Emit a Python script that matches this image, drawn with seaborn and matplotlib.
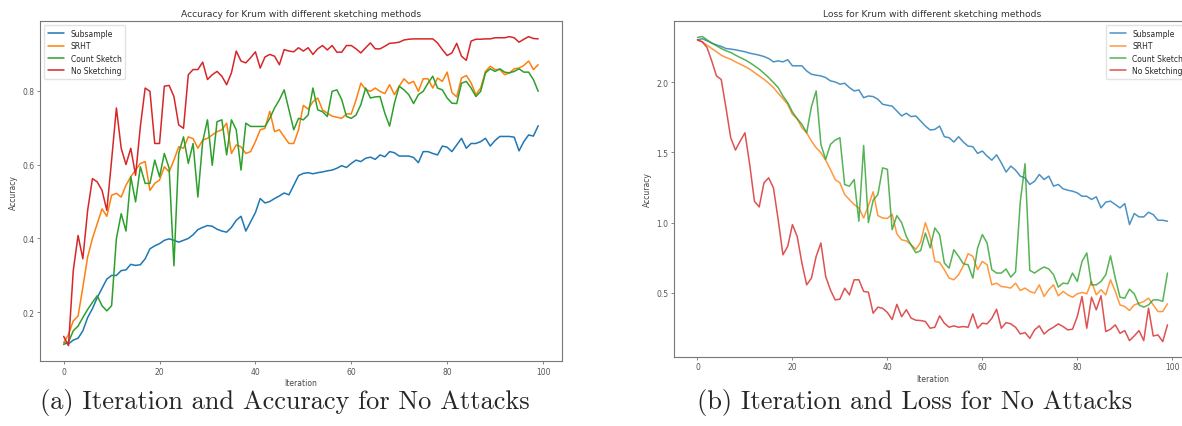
import numpy as np
import pandas as pd
import matplotlib
matplotlib.use("Agg")
import matplotlib.pyplot as plt
import seaborn as sns

# ---- data ----
iterations = list(range(100))
methods = ["Subsample", "SRHT", "Count Sketch", "No Sketching"]

acc_subsample = [
    0.118, 0.115, 0.125, 0.13, 0.15, 0.186, 0.21, 0.24, 0.265, 0.29,
    0.30, 0.30, 0.313, 0.315, 0.33, 0.327, 0.329, 0.345, 0.372, 0.38,
    0.386, 0.395, 0.399, 0.395, 0.39, 0.395, 0.40, 0.41, 0.424, 0.43,
    0.435, 0.433, 0.425, 0.42, 0.417, 0.43, 0.449, 0.46, 0.42, 0.445,
    0.47, 0.508, 0.496, 0.50, 0.508, 0.515, 0.523, 0.518, 0.544, 0.57,
    0.576, 0.578, 0.575, 0.578, 0.58, 0.583, 0.585, 0.59, 0.597, 0.592,
    0.603, 0.612, 0.608, 0.617, 0.62, 0.614, 0.626, 0.621, 0.635, 0.632,
    0.623, 0.623, 0.623, 0.619, 0.605, 0.635, 0.635, 0.63, 0.626, 0.65,
    0.647, 0.635, 0.653, 0.671, 0.644, 0.657, 0.657, 0.662, 0.671, 0.65,
    0.665, 0.676, 0.676, 0.676, 0.674, 0.637, 0.662, 0.68, 0.677, 0.705,
]
acc_srht = [
    0.118, 0.14, 0.177, 0.19, 0.268, 0.35, 0.40, 0.44, 0.48, 0.46,
    0.517, 0.522, 0.512, 0.544, 0.567, 0.585, 0.603, 0.608, 0.53, 0.549,
    0.558, 0.594, 0.58, 0.612, 0.648, 0.644, 0.675, 0.67, 0.644, 0.666,
    0.671, 0.68, 0.689, 0.694, 0.712, 0.63, 0.653, 0.648, 0.63, 0.635,
    0.662, 0.694, 0.698, 0.744, 0.689, 0.694, 0.675, 0.657, 0.657, 0.694,
    0.76, 0.75, 0.77, 0.78, 0.748, 0.739, 0.731, 0.728, 0.725, 0.737,
    0.737, 0.775, 0.82, 0.803, 0.798, 0.807, 0.798, 0.792, 0.816, 0.789,
    0.812, 0.832, 0.819, 0.825, 0.798, 0.832, 0.832, 0.807, 0.834, 0.825,
    0.85, 0.795, 0.783, 0.834, 0.841, 0.821, 0.789, 0.807, 0.852, 0.866,
    0.857, 0.857, 0.843, 0.848, 0.859, 0.861, 0.868, 0.88, 0.857, 0.87,
]
acc_count = [
    0.113, 0.12, 0.15, 0.163, 0.186, 0.208, 0.227, 0.245, 0.218, 0.204,
    0.218, 0.40, 0.467, 0.42, 0.567, 0.499, 0.594, 0.549, 0.549, 0.612,
    0.567, 0.63, 0.59, 0.326, 0.63, 0.675, 0.603, 0.657, 0.512, 0.662,
    0.721, 0.598, 0.716, 0.721, 0.626, 0.721, 0.694, 0.585, 0.712, 0.703,
    0.703, 0.703, 0.703, 0.725, 0.753, 0.775, 0.802, 0.748, 0.694, 0.725,
    0.721, 0.734, 0.807, 0.748, 0.743, 0.73, 0.798, 0.802, 0.776, 0.73,
    0.725, 0.734, 0.762, 0.807, 0.78, 0.783, 0.784, 0.739, 0.704, 0.766,
    0.812, 0.802, 0.789, 0.765, 0.789, 0.798, 0.82, 0.839, 0.807, 0.802,
    0.78, 0.766, 0.765, 0.82, 0.825, 0.807, 0.784, 0.798, 0.848, 0.859,
    0.852, 0.859, 0.85, 0.848, 0.852, 0.859, 0.85, 0.85, 0.83, 0.798,
]
acc_none = [
    0.135, 0.11, 0.313, 0.408, 0.345, 0.476, 0.562, 0.553, 0.53, 0.476,
    0.612, 0.753, 0.644, 0.60, 0.644, 0.571, 0.703, 0.807, 0.798, 0.657,
    0.657, 0.812, 0.814, 0.784, 0.707, 0.698, 0.843, 0.857, 0.857, 0.877,
    0.83, 0.843, 0.852, 0.839, 0.816, 0.848, 0.907, 0.88, 0.875, 0.889,
    0.905, 0.861, 0.891, 0.898, 0.893, 0.87, 0.911, 0.907, 0.905, 0.916,
    0.907, 0.916, 0.898, 0.913, 0.922, 0.91, 0.922, 0.904, 0.904, 0.922,
    0.922, 0.913, 0.902, 0.916, 0.929, 0.913, 0.913, 0.92, 0.928, 0.929,
    0.931, 0.937, 0.939, 0.94, 0.94, 0.94, 0.94, 0.94, 0.929, 0.911,
    0.895, 0.902, 0.928, 0.893, 0.882, 0.934, 0.939, 0.939, 0.94, 0.94,
    0.943, 0.943, 0.943, 0.946, 0.943, 0.931, 0.939, 0.946, 0.941, 0.94,
]

loss_subsample = [
    2.302, 2.31, 2.295, 2.279, 2.265, 2.255, 2.24, 2.236, 2.231, 2.224,
    2.217, 2.207, 2.2, 2.193, 2.183, 2.169, 2.145, 2.152, 2.145, 2.16,
    2.117, 2.117, 2.117, 2.08, 2.057, 2.05, 2.045, 2.033, 2.01, 2.002,
    1.986, 1.993, 1.962, 1.938, 1.945, 1.89, 1.902, 1.898, 1.879, 1.843,
    1.836, 1.83, 1.795, 1.76, 1.779, 1.755, 1.76, 1.724, 1.688, 1.66,
    1.664, 1.688, 1.612, 1.605, 1.574, 1.612, 1.574, 1.545, 1.541, 1.493,
    1.51, 1.474, 1.445, 1.483, 1.426, 1.36, 1.403, 1.374, 1.331, 1.319,
    1.272, 1.295, 1.343, 1.307, 1.331, 1.26, 1.272, 1.241, 1.231, 1.224,
    1.212, 1.188, 1.188, 1.165, 1.184, 1.105, 1.146, 1.153, 1.129, 1.105,
    1.136, 0.986, 1.065, 1.041, 1.041, 1.074, 1.057, 1.017, 1.017, 1.01,
]
loss_srht = [
    2.30, 2.288, 2.264, 2.24, 2.217, 2.193, 2.176, 2.164, 2.145, 2.129,
    2.112, 2.093, 2.069, 2.045, 2.021, 1.993, 1.962, 1.921, 1.883, 1.843,
    1.771, 1.74, 1.676, 1.64, 1.581, 1.533, 1.498, 1.445, 1.379, 1.307,
    1.283, 1.2, 1.164, 1.129, 1.105, 1.033, 1.12, 1.22, 1.05, 1.033,
    1.03, 1.06, 0.92, 0.878, 0.87, 0.843, 0.81, 0.86, 1.0, 0.9,
    0.724, 0.717, 0.665, 0.605, 0.593, 0.629, 0.693, 0.779, 0.76, 0.665,
    0.724, 0.7, 0.557, 0.569, 0.545, 0.541, 0.534, 0.569, 0.517, 0.534,
    0.51, 0.498, 0.557, 0.474, 0.522, 0.557, 0.479, 0.51, 0.486, 0.469,
    0.493, 0.503, 0.493, 0.581, 0.486, 0.522, 0.486, 0.593, 0.51, 0.414,
    0.403, 0.374, 0.414, 0.426, 0.438, 0.462, 0.414, 0.367, 0.367, 0.422,
]
loss_count = [
    2.319, 2.326, 2.302, 2.279, 2.26, 2.24, 2.224, 2.212, 2.193, 2.176,
    2.16, 2.14, 2.117, 2.093, 2.064, 2.033, 1.998, 1.962, 1.902, 1.855,
    1.788, 1.74, 1.7, 1.64, 1.826, 1.938, 1.557, 1.45, 1.557, 1.588,
    1.605, 1.271, 1.26, 1.307, 1.01, 1.55, 1.0, 1.16, 1.2, 1.39,
    1.38, 0.95, 1.05, 1.0, 0.9, 0.84, 0.786, 0.8, 0.926, 0.82,
    0.962, 0.915, 0.712, 0.676, 0.807, 0.76, 0.707, 0.7, 0.605, 0.819,
    0.915, 0.855, 0.665, 0.641, 0.641, 0.67, 0.612, 0.65, 1.15, 1.42,
    0.66, 0.641, 0.665, 0.684, 0.67, 0.629, 0.541, 0.569, 0.565, 0.641,
    0.581, 0.724, 0.784, 0.557, 0.557, 0.581, 0.629, 0.764, 0.605, 0.469,
    0.462, 0.526, 0.493, 0.414, 0.398, 0.414, 0.45, 0.45, 0.44, 0.641,
]
loss_none = [
    2.302, 2.288, 2.248, 2.152, 2.045, 2.02, 1.819, 1.605, 1.517, 1.581,
    1.64, 1.414, 1.152, 1.112, 1.283, 1.319, 1.248, 1.021, 0.771, 0.831,
    0.986, 0.902, 0.712, 0.557, 0.605, 0.76, 0.855, 0.617, 0.521, 0.45,
    0.455, 0.533, 0.486, 0.593, 0.593, 0.51, 0.505, 0.355, 0.398, 0.39,
    0.36, 0.31, 0.418, 0.33, 0.38, 0.32, 0.305, 0.303, 0.296, 0.248,
    0.255, 0.336, 0.284, 0.255, 0.265, 0.255, 0.26, 0.255, 0.35, 0.248,
    0.284, 0.279, 0.319, 0.383, 0.248, 0.288, 0.279, 0.255, 0.207, 0.217,
    0.176, 0.236, 0.265, 0.207, 0.236, 0.255, 0.279, 0.26, 0.236, 0.241,
    0.331, 0.474, 0.248, 0.469, 0.379, 0.479, 0.224, 0.241, 0.272, 0.212,
    0.231, 0.16, 0.193, 0.231, 0.16, 0.391, 0.193, 0.2, 0.153, 0.272,
]

titles = ["Accuracy for Krum with different sketching methods",
          "Loss for Krum with different sketching methods"]
captions = ["(a) Iteration and Accuracy for No Attacks",
            "(b) Iteration and Loss for No Attacks"]


def to_long(series):
    frames = []
    for name, vals in zip(methods, series):
        frames.append(pd.DataFrame({"Iteration": iterations, "Value": vals, "Method": name}))
    return pd.concat(frames, ignore_index=True)


acc_df = to_long([acc_subsample, acc_srht, acc_count, acc_none])
loss_df = to_long([loss_subsample, loss_srht, loss_count, loss_none])

# ---- styling ----
sns.set_theme(style="white")
plt.rcParams.update({
    "font.family": ["DejaVu Sans"],
    "axes.edgecolor": "#777777",
    "axes.linewidth": 0.8,
    "xtick.color": "#555555",
    "ytick.color": "#555555",
    "xtick.bottom": True,
    "ytick.left": True,
})
palette = sns.color_palette("tab10", 4)

fig = plt.figure(figsize=(11.82, 4.27), dpi=100)
ax1 = fig.add_axes([0.0338, 0.152, 0.4416, 0.796])
ax2 = fig.add_axes([0.5702, 0.162, 0.4374, 0.786])


def draw(ax, df, title, loc, alpha):
    sns.lineplot(data=df, x="Iteration", y="Value", hue="Method", palette=palette,
                 linewidth=1.1, alpha=alpha, ax=ax)
    ax.set_title(title, fontsize=6.6, color="#333333", pad=4)
    ax.set_xlabel("Iteration", fontsize=5.5, color="#444444", labelpad=2)
    ax.set_ylabel("Accuracy", fontsize=5.5, color="#444444", labelpad=3)
    ax.set_xticks([0, 20, 40, 60, 80, 100])
    ax.tick_params(labelsize=5.5, length=2, width=0.5, pad=2)
    handles, labels = ax.get_legend_handles_labels()
    ax.legend(handles, labels, loc=loc, fontsize=5.5, frameon=True,
              edgecolor="#dddddd", handlelength=2.2, borderpad=0.5, labelspacing=0.45)
    for s in ax.spines.values():
        s.set_visible(True)


draw(ax1, acc_df, titles[0], "upper left", 1.0)
draw(ax2, loss_df, titles[1], "upper right", 0.8)
ax2.set_yticks([0.5, 1.0, 1.5, 2.0])
ax1.set_yticks([0.2, 0.4, 0.6, 0.8])

# subfigure captions in a LaTeX-like serif face
fig.text(285 / 1182, 0.058, captions[0], ha="center", va="center",
         family="cmr10", fontsize=19)
fig.text(915 / 1182, 0.058, captions[1], ha="center", va="center",
         family="cmr10", fontsize=19)

fig.savefig("out.png", dpi=100)
